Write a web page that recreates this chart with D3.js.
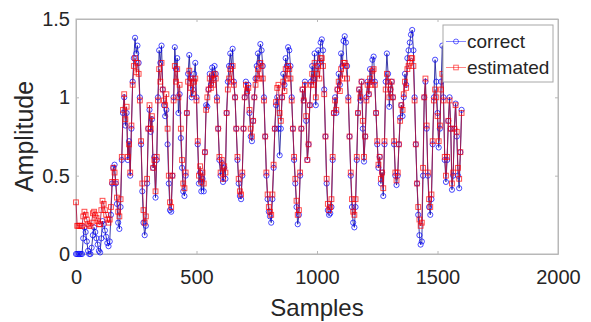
<!DOCTYPE html>
<html>
<head>
<meta charset="utf-8">
<script src="https://cdn.jsdelivr.net/npm/d3@7"></script>
<style>
  body { margin: 0; background: #fff; }
  text { font-family: "Liberation Sans", Arial, sans-serif; fill: #262626; }
</style>
</head>
<body>
<div class="chart"></div>
<script>
// sample index step between stored values
const sampleStep = 5;

const xTicks = [0, 500, 1000, 1500, 2000];
const yTicks = [0, 0.5, 1, 1.5];
const seriesNames = ["correct", "estimated"];

// "correct" amplitude, one value every 5 samples (0..1600)
const correctValues = [
  0,0,0,0,0,0,0.10,0.17,0.14,0.08,0.02,0,0,0.04,0.12,0.17,0.14,0.10,0.06,0.02,
  0.01,0.10,0.21,0.19,0.15,0.11,0.07,0.05,0.08,0.25,0.45,0.55,0.57,0.45,0.32,0.20,0.16,0.30,0.60,0.90,
  1.0,0.82,0.9,0.6,0.72,0.5,0.8,1.1,1.25,1.38,1.28,1.33,1.22,1.0,0.7,0.4,0.2,0.12,0.18,0.45,
  0.8,0.92,0.78,0.86,0.55,0.62,0.36,0.6,1.0,1.3,1.22,1.33,1.05,0.95,0.88,0.92,0.7,0.45,0.28,0.27,
  0.5,1.0,1.32,1.18,1.25,0.9,1.02,0.74,0.55,0.4,0.37,0.5,0.9,1.15,1.27,1.12,1.0,1.05,1.15,1.22,
  1.0,0.7,0.45,0.52,0.4,0.48,0.4,0.65,0.95,0.94,1.05,1.15,1.08,1.19,1.12,1.2,1.15,1.0,0.8,0.6,
  0.5,0.58,0.46,0.55,0.48,0.9,1.1,1.2,1.28,1.2,1.31,1.1,1.0,0.8,0.6,0.45,0.37,0.35,0.5,0.8,
  1.0,1.1,1.03,1.08,0.9,0.75,0.72,0.85,1.0,1.12,1.2,1.28,1.22,1.34,1.3,1.2,1.0,0.75,0.5,0.35,
  0.27,0.24,0.2,0.35,0.55,0.8,0.95,1.0,0.8,0.63,0.8,1.0,1.15,1.08,1.25,1.2,1.32,1.3,1.2,1.0,
  0.8,0.6,0.45,0.3,0.19,0.25,0.5,0.8,1.05,0.98,1.1,0.85,0.6,0.7,0.95,1.1,1.2,1.12,1.28,0.95,
  1.2,1.3,1.22,1.35,1.37,1.3,1.05,0.75,0.45,0.28,0.25,0.26,0.3,0.6,0.9,1.0,0.9,1.05,1.15,1.08,
  1.28,1.2,1.36,1.39,1.35,1.2,1.0,0.75,0.5,0.3,0.2,0.17,0.3,0.6,0.9,1.05,0.98,1.1,0.8,0.59,
  0.75,1.0,1.1,1.02,1.18,1.1,1.24,1.26,1.1,0.9,0.7,0.55,0.62,0.45,0.52,0.37,0.7,1.1,1.28,1.15,
  0.94,1.05,1.1,1.0,0.7,0.5,0.44,0.5,0.7,0.87,0.95,0.88,1.0,1.15,1.08,1.25,1.3,1.35,1.4,1.43,
  1.3,1.0,0.7,0.45,0.25,0.12,0.06,0.08,0.5,1.0,1.1,0.8,0.5,0.3,0.25,0.35,0.7,1.0,1.24,1.1,
  0.9,0.68,0.8,1.1,1.33,1.0,0.6,0.46,0.6,0.85,1.0,0.8,0.41,0.5,0.8,0.96,0.75,0.5,0.42,0.65,
  0.92
];

// "estimated" amplitude, same sampling
const estimatedValues = [
  0.33,0.18,0.18,0.18,0.18,0.18,0.24,0.27,0.25,0.22,0.19,0.18,0.18,0.2,0.26,0.27,0.25,0.23,0.21,0.19,
  0.19,0.28,0.34,0.32,0.28,0.25,0.22,0.2,0.22,0.3,0.46,0.55,0.52,0.46,0.36,0.27,0.24,0.35,0.62,0.92,
  1.02,0.86,0.94,0.62,0.7,0.52,0.82,1.08,1.2,1.25,1.16,1.22,1.15,0.98,0.72,0.45,0.28,0.2,0.24,0.48,
  0.8,0.95,0.8,0.88,0.55,0.6,0.4,0.62,0.98,1.18,1.1,1.22,1.05,0.98,0.95,1.02,0.8,0.5,0.33,0.3,
  0.5,0.98,1.2,1.1,1.18,1.0,1.08,0.8,0.6,0.45,0.42,0.52,0.9,1.1,1.17,1.06,1.12,1.02,1.1,1.12,
  0.98,0.72,0.5,0.56,0.46,0.52,0.45,0.65,0.92,1.0,1.05,1.12,1.06,1.14,1.08,1.15,1.12,0.98,0.8,0.62,
  0.52,0.6,0.48,0.56,0.52,0.9,1.05,1.12,1.18,1.1,1.2,1.08,1.0,0.8,0.62,0.48,0.4,0.38,0.52,0.8,
  1.0,1.08,1.04,1.06,0.92,0.8,0.75,0.85,1.0,1.08,1.12,1.18,1.12,1.22,1.2,1.12,0.98,0.75,0.52,0.38,
  0.3,0.27,0.25,0.38,0.57,0.8,0.97,1.06,1.08,0.9,0.85,1.0,1.1,1.04,1.18,1.12,1.2,1.18,1.12,0.98,
  0.8,0.62,0.48,0.34,0.25,0.28,0.52,0.8,1.05,0.98,1.08,0.88,0.6,0.7,0.95,1.08,1.15,1.08,1.22,1.0,
  1.15,1.2,1.12,1.25,1.25,1.2,1.02,0.75,0.48,0.32,0.28,0.3,0.35,0.62,0.9,0.98,0.92,1.05,1.1,1.04,
  1.18,1.12,1.22,1.22,1.2,1.12,0.98,0.75,0.52,0.35,0.27,0.25,0.35,0.62,0.9,1.05,1.0,1.1,0.85,0.62,
  0.75,0.98,1.08,1.02,1.12,1.08,1.17,1.18,1.08,0.9,0.72,0.57,0.62,0.48,0.52,0.42,0.72,1.05,1.15,1.1,
  1.0,1.05,1.1,1.0,0.72,0.52,0.47,0.52,0.7,0.85,0.95,0.92,1.02,1.1,1.06,1.18,1.2,1.22,1.25,1.25,
  1.2,0.98,0.7,0.45,0.3,0.22,0.18,0.2,0.55,1.0,1.12,0.82,0.52,0.35,0.3,0.38,0.72,0.98,1.05,1.0,
  0.88,0.72,0.82,1.05,1.15,0.98,0.62,0.5,0.62,0.85,0.98,0.8,0.45,0.52,0.8,0.95,0.78,0.55,0.48,0.65,
  0.9
];

const width = 591, height = 322;
const plot = { left: 76, right: 558, top: 19, bottom: 254 };
const colors = ["#0000ff", "#ff0000"];

const svg = d3.select(".chart").append("svg")
  .attr("width", width)
  .attr("height", height);

svg.append("rect").attr("width", width).attr("height", height).attr("fill", "#fff");

const x = d3.scaleLinear().domain([0, 2000]).range([plot.left, plot.right]);
const y = d3.scaleLinear().domain([0, 1.5]).range([plot.bottom, plot.top]);

function toPoints(values) {
  return values.map((v, i) => ({ s: i * sampleStep, v: v }));
}

// axes (MATLAB-like: inward ticks on all four sides, light box)
function drawAxes() {
  const axisColor = "#b8b8b8";

  const bottom = svg.append("g")
    .attr("transform", "translate(0," + plot.bottom + ")")
    .call(d3.axisBottom(x).tickValues(xTicks).tickFormat(d3.format("d"))
      .tickSizeInner(-3).tickSizeOuter(0).tickPadding(16));
  bottom.selectAll("text").attr("font-size", 20);

  const left = svg.append("g")
    .attr("transform", "translate(" + plot.left + ",0)")
    .call(d3.axisLeft(y).tickValues(yTicks).tickFormat(d3.format(""))
      .tickSizeInner(-3).tickSizeOuter(0).tickPadding(6));
  left.selectAll("text").attr("font-size", 20);

  svg.append("g")
    .attr("transform", "translate(0," + plot.top + ")")
    .call(d3.axisTop(x).tickValues(xTicks).tickSizeInner(-3).tickSizeOuter(0).tickFormat(""));

  svg.append("g")
    .attr("transform", "translate(" + plot.right + ",0)")
    .call(d3.axisRight(y).tickValues(yTicks).tickSizeInner(-3).tickSizeOuter(0).tickFormat(""));

  svg.selectAll(".domain").attr("stroke", axisColor);
  svg.selectAll(".tick line").attr("stroke", axisColor);
  svg.selectAll(".tick text").attr("fill", "#262626").attr("font-family", "Liberation Sans, Arial, sans-serif");

  svg.append("rect")
    .attr("x", plot.left)
    .attr("y", plot.top)
    .attr("width", plot.right - plot.left)
    .attr("height", plot.bottom - plot.top)
    .attr("fill", "none")
    .attr("stroke", axisColor);

  svg.append("text")
    .text("Samples")
    .attr("x", (plot.left + plot.right) / 2)
    .attr("y", 316)
    .attr("text-anchor", "middle")
    .attr("font-size", 24);

  svg.append("text")
    .text("Amplitude")
    .attr("transform", "translate(33," + (plot.top + plot.bottom) / 2 + ") rotate(-90)")
    .attr("text-anchor", "middle")
    .attr("font-size", 25);
}

function plotSeries(points, color, lineColor, marker) {
  const line = d3.line()
    .x(d => x(d.s))
    .y(d => y(d.v));

  const g = svg.append("g");

  g.append("path")
    .datum(points)
    .attr("fill", "none")
    .attr("stroke", lineColor)
    .attr("stroke-width", 1)
    .attr("stroke-opacity", 0.85)
    .attr("d", line);

  if (marker === "circle") {
    g.selectAll("circle")
      .data(points)
      .enter().append("circle")
      .attr("cx", d => x(d.s))
      .attr("cy", d => y(d.v))
      .attr("r", 2.6)
      .attr("fill", "none")
      .attr("stroke", color)
      .attr("stroke-width", 1)
      .attr("stroke-opacity", 0.7);
  } else {
    g.selectAll("rect")
      .data(points)
      .enter().append("rect")
      .attr("x", d => x(d.s) - 2.4)
      .attr("y", d => y(d.v) - 2.4)
      .attr("width", 4.8)
      .attr("height", 4.8)
      .attr("fill", "none")
      .attr("stroke", color)
      .attr("stroke-width", 1)
      .attr("stroke-opacity", 0.7);
  }
}

function drawLegend() {
  const box = { x: 443, y: 25, w: 110, h: 57 };
  const legend = svg.append("g");

  legend.append("rect")
    .attr("x", box.x)
    .attr("y", box.y)
    .attr("width", box.w)
    .attr("height", box.h)
    .attr("fill", "#fff")
    .attr("stroke", "#a8a8a8");

  seriesNames.forEach(function (name, i) {
    const ly = 41.5 + i * 26;
    legend.append("line")
      .attr("x1", 446).attr("x2", 466)
      .attr("y1", ly).attr("y2", ly)
      .attr("stroke", colors[i])
      .attr("stroke-opacity", 0.6)
      .attr("stroke-width", 0.8);
    if (i === 0) {
      legend.append("circle")
        .attr("cx", 456).attr("cy", ly).attr("r", 2.5)
        .attr("fill", "none").attr("stroke", colors[i]).attr("stroke-opacity", 0.6);
    } else {
      legend.append("rect")
        .attr("x", 453.7).attr("y", ly - 2.3).attr("width", 4.6).attr("height", 4.6)
        .attr("fill", "none").attr("stroke", colors[i]).attr("stroke-opacity", 0.6);
    }
    legend.append("text")
      .text(name)
      .attr("x", 467)
      .attr("y", 48 + i * 25.5)
      .attr("font-size", 19)
      .attr("fill", "#000");
  });
}

drawAxes();
plotSeries(toPoints(correctValues), colors[0], "#1a1a9a", "circle");
plotSeries(toPoints(estimatedValues), colors[1], "#b01040", "square");
drawLegend();
</script>
</body>
</html>
